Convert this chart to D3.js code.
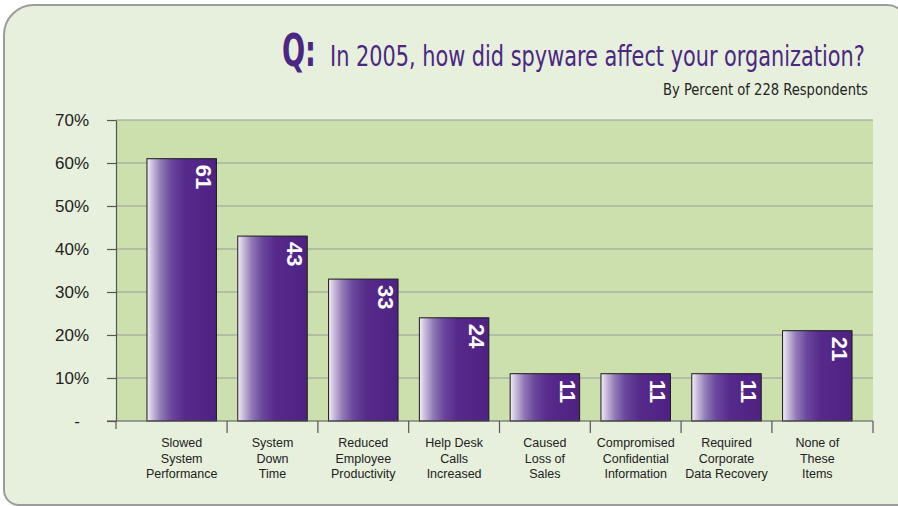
<!DOCTYPE html>
<html>
<head>
<meta charset="utf-8">
<script src="https://cdn.jsdelivr.net/npm/d3@7"></script>
<style>
  html, body { margin: 0; padding: 0; background: #ffffff; }
  svg { display: block; }
</style>
</head>
<body>
<script>
// ---------- data ----------
const categories = [
  "Slowed System Performance",
  "System Down Time",
  "Reduced Employee Productivity",
  "Help Desk Calls Increased",
  "Caused Loss of Sales",
  "Compromised Confidential Information",
  "Required Corporate Data Recovery",
  "None of These Items"
];
const categoryLines = [
  ["Slowed", "System", "Performance"],
  ["System", "Down", "Time"],
  ["Reduced", "Employee", "Productivity"],
  ["Help Desk", "Calls", "Increased"],
  ["Caused", "Loss of", "Sales"],
  ["Compromised", "Confidential", "Information"],
  ["Required", "Corporate", "Data Recovery"],
  ["None of", "These", "Items"]
];
const values = [61, 43, 33, 24, 11, 11, 11, 21];
const yTicks = [0, 10, 20, 30, 40, 50, 60, 70];
const titleQ = "Q:";
const titleText = "In 2005, how did spyware affect your organization?";
const subtitleText = "By Percent of 228 Respondents";

// ---------- layout ----------
const W = 898, H = 506;
const plot = { left: 116, right: 873, top: 120, bottom: 421 };
const narrow = '"Liberation Sans Narrow", "DejaVu Sans Condensed", "Roboto Condensed", "Arial Narrow", sans-serif';
const sans = '"Liberation Sans", Arial, Helvetica, sans-serif';
const purple = "#4b2683";

const svg = d3.select("body").append("svg").attr("width", W).attr("height", H);

// gradient for bars
const defs = svg.append("defs");
const grad = defs.append("linearGradient").attr("id", "barGrad")
  .attr("x1", "0%").attr("x2", "100%").attr("y1", "0%").attr("y2", "0%");
[["0%", "#f3eff8"], ["8%", "#c9bbdc"], ["20%", "#9079b6"], ["35%", "#6a479c"], ["55%", "#56298a"], ["100%", "#4e2283"]]
  .forEach(([o, c]) => grad.append("stop").attr("offset", o).attr("stop-color", c));

// card background
svg.append("rect").attr("width", W).attr("height", H).attr("fill", "#ffffff");
svg.append("path")
  .attr("d", "M4,35 A30,30 0 0 1 34,5 L887,5 A20,20 0 0 1 907,25 L907,505 L19,505 A15,15 0 0 1 4,490 Z")
  .attr("fill", "#e7f0dc")
  .attr("stroke", "#9c9c9c")
  .attr("stroke-width", 2);

// scales
const x = d3.scaleBand().domain(categories).range([136.3, 862.7]).paddingInner(0.235).paddingOuter(0.1175);
const y = d3.scaleLinear().domain([0, 70]).range([plot.bottom, plot.top]);

// plot area
svg.append("rect")
  .attr("x", plot.left).attr("y", plot.top)
  .attr("width", plot.right - plot.left).attr("height", plot.bottom - plot.top)
  .attr("fill", "#cce0ad");

// gridlines
svg.append("g").selectAll("line").data(yTicks.filter(d => d > 0)).join("line")
  .attr("x1", plot.left).attr("x2", plot.right)
  .attr("y1", d => y(d)).attr("y2", d => y(d))
  .attr("stroke", "#9a9a9a").attr("stroke-width", 1.2);

// y axis
const yAxis = d3.axisLeft(y).tickValues(yTicks)
  .tickFormat(d => d === 0 ? "-" : d + "%")
  .tickSizeInner(9).tickSizeOuter(0).tickPadding(18);
const gy = svg.append("g").attr("transform", `translate(${plot.left},0)`).call(yAxis);
gy.select(".domain").attr("stroke", "#555").attr("stroke-width", 1.2);
gy.selectAll(".tick line").attr("stroke", "#555").attr("stroke-width", 1.2);
gy.selectAll(".tick text")
  .attr("font-family", sans).attr("font-size", 17).attr("fill", "#222")
  .attr("dx", d => d === 0 ? -9 : 0);

// bars
const bars = svg.append("g");
bars.selectAll("rect").data(values).join("rect")
  .attr("x", (d, i) => x(categories[i]))
  .attr("y", d => y(d))
  .attr("width", x.bandwidth())
  .attr("height", d => y(0) - y(d))
  .attr("fill", "url(#barGrad)")
  .attr("stroke", "#1a1a1a").attr("stroke-width", 1);

// value labels (rotated)
bars.selectAll("text").data(values).join("text")
  .attr("transform", (d, i) => `translate(${x(categories[i]) + x.bandwidth() - 20},${y(d) + 6}) rotate(90)`)
  .attr("font-family", sans).attr("font-weight", "bold").attr("font-size", 22)
  .attr("fill", "#ffffff").attr("text-anchor", "start")
  .text(d => d);

// x axis baseline
svg.append("line")
  .attr("x1", plot.left - 9).attr("x2", plot.right)
  .attr("y1", plot.bottom).attr("y2", plot.bottom)
  .attr("stroke", "#555").attr("stroke-width", 1.2);

// category dividers
const step = x.step();
const dividers = categories.slice(1).map(c => x(c) - step * x.paddingInner() / 2);
svg.append("g").selectAll("line").data(dividers).join("line")
  .attr("x1", d => d).attr("x2", d => d)
  .attr("y1", plot.bottom).attr("y2", plot.bottom + 12)
  .attr("stroke", "#555").attr("stroke-width", 1.2);
svg.append("line").attr("x1", plot.left).attr("x2", plot.left)
  .attr("y1", plot.bottom).attr("y2", plot.bottom + 8)
  .attr("stroke", "#555").attr("stroke-width", 1.2);
svg.append("line").attr("x1", plot.right).attr("x2", plot.right)
  .attr("y1", plot.bottom).attr("y2", plot.bottom + 12)
  .attr("stroke", "#555").attr("stroke-width", 1.2);

// category labels
const labels = svg.append("g");
categoryLines.forEach((lines, i) => {
  const cx = x(categories[i]) + x.bandwidth() / 2;
  const t = labels.append("text")
    .attr("text-anchor", "middle")
    .attr("font-family", sans).attr("font-size", 12.5).attr("fill", "#222");
  lines.forEach((ln, j) => {
    t.append("tspan").attr("x", cx).attr("y", 447 + j * 15.5).text(ln);
  });
});

// title: texts horizontally scaled to fit the target widths (condensed look)
function fitText(sel, x0, yb, width) {
  const w = sel.node().getComputedTextLength();
  const sx = width / w;
  sel.attr("x", 0).attr("y", 0)
    .attr("transform", `translate(${x0},${yb}) scale(${sx},1)`);
}
const q = svg.append("text")
  .attr("text-anchor", "start")
  .attr("font-family", narrow).attr("font-weight", "bold").attr("font-size", 44)
  .attr("fill", purple).text(titleQ);
fitText(q, 282, 66, 34);
const tt = svg.append("text")
  .attr("text-anchor", "start")
  .attr("font-family", narrow).attr("font-size", 28)
  .attr("fill", purple).text(titleText);
fitText(tt, 330, 66, 535);
const st = svg.append("text")
  .attr("text-anchor", "start")
  .attr("font-family", narrow).attr("font-size", 16)
  .attr("fill", "#222").text(subtitleText);
fitText(st, 663, 95, 205);
</script>
</body>
</html>
